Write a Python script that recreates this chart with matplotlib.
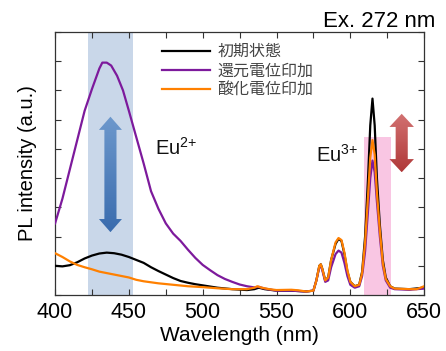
import matplotlib
matplotlib.use("Agg")
import matplotlib.pyplot as plt
import numpy as np
from matplotlib.patches import Polygon
from matplotlib.ticker import MultipleLocator

plt.rcParams['font.family'] = ['Liberation Sans', 'Noto Sans CJK JP', 'DejaVu Sans']
plt.rcParams['mathtext.default'] = 'regular'

# spectra (wavelength in nm, intensity in arbitrary units)
wl_init = [400, 405, 410, 415, 420, 425, 430, 435, 440, 445, 450, 455, 460, 465, 470,
           475, 480, 485, 490, 495, 500, 510, 520, 530, 535, 538, 542, 550, 560, 570,
           575, 577, 579, 580, 581, 583, 585, 587, 590, 592, 594, 596, 598, 600, 603,
           606, 608, 610, 612, 613.5, 615, 616.5, 618, 620, 622, 624, 627, 630, 640, 650]
pl_init = [1.0, 0.98, 1.02, 1.12, 1.25, 1.35, 1.42, 1.45, 1.43, 1.38, 1.3, 1.2, 1.1, 0.95, 0.82,
           0.7, 0.58, 0.48, 0.42, 0.37, 0.33, 0.25, 0.2, 0.17, 0.2, 0.25, 0.2, 0.15, 0.15, 0.12,
           0.15, 0.5, 1.0, 1.05, 0.9, 0.5, 0.6, 1.2, 1.75, 1.92, 1.85, 1.4, 0.8, 0.45, 0.3,
           0.35, 0.8, 2.0, 4.0, 5.8, 6.72, 5.8, 4.0, 2.4, 1.2, 0.6, 0.3, 0.22, 0.2, 0.25]

wl_red = [400, 405, 410, 415, 420, 425, 430, 432, 435, 438, 442, 446, 450, 455, 460,
          465, 470, 475, 480, 485, 490, 495, 500, 505, 510, 515, 520, 525, 530, 535,
          538, 542, 550, 560, 570, 575, 577, 579, 580, 581, 583, 585, 587, 590, 592,
          594, 596, 598, 600, 603, 606, 608, 610, 612, 613.5, 615, 616.5, 618, 620, 622,
          624, 627, 630, 640, 650]
pl_red = [2.45, 3.3, 4.3, 5.3, 6.3, 7.05, 7.75, 7.95, 7.95, 7.85, 7.5, 7.0, 6.3, 5.4, 4.5,
          3.55, 2.95, 2.45, 2.1, 1.85, 1.55, 1.27, 1.03, 0.85, 0.68, 0.55, 0.45, 0.36, 0.3, 0.26,
          0.28, 0.22, 0.15, 0.15, 0.12, 0.15, 0.5, 0.95, 1.0, 0.85, 0.45, 0.5, 0.95, 1.4, 1.52,
          1.45, 1.1, 0.65, 0.35, 0.25, 0.3, 0.65, 1.5, 2.9, 4.0, 4.6, 4.2, 3.2, 2.0, 1.0,
          0.5, 0.25, 0.2, 0.18, 0.22]

wl_ox = [400, 405, 410, 415, 420, 425, 430, 435, 440, 445, 450, 455, 460, 470, 480,
         490, 500, 510, 520, 530, 535, 537, 540, 545, 550, 560, 565, 570, 575, 577,
         579, 580, 581, 583, 585, 587, 590, 592, 594, 596, 598, 600, 603, 606, 608,
         610, 612, 613.5, 615, 616.5, 618, 620, 622, 624, 627, 630, 640, 645, 650]
pl_ox = [1.43, 1.3, 1.15, 1.03, 0.95, 0.88, 0.8, 0.75, 0.7, 0.65, 0.6, 0.52, 0.47, 0.4, 0.35,
         0.3, 0.27, 0.23, 0.2, 0.2, 0.25, 0.3, 0.25, 0.2, 0.17, 0.18, 0.16, 0.12, 0.15, 0.5,
         1.0, 1.05, 0.9, 0.5, 0.6, 1.2, 1.8, 1.95, 1.88, 1.45, 0.85, 0.45, 0.3, 0.35, 0.75,
         1.8, 3.4, 4.7, 5.3, 4.8, 3.5, 2.2, 1.1, 0.55, 0.3, 0.22, 0.2, 0.2, 0.3]

labels = ['初期状態', '還元電位印加', '酸化電位印加']
colors = ['black', '#7d1a9c', '#ff8000']


def double_arrow(ax, x, y0, y1, shaft_w, head_w, head_len, c_top, c_bot):
    pts = [(x - shaft_w, y0 + head_len), (x - head_w, y0 + head_len), (x, y0),
           (x + head_w, y0 + head_len), (x + shaft_w, y0 + head_len),
           (x + shaft_w, y1 - head_len), (x + head_w, y1 - head_len), (x, y1),
           (x - head_w, y1 - head_len), (x - shaft_w, y1 - head_len)]
    poly = Polygon(pts, closed=True, facecolor='none', edgecolor='none', zorder=4)
    ax.add_patch(poly)
    ct = np.array(matplotlib.colors.to_rgb(c_top))
    cb = np.array(matplotlib.colors.to_rgb(c_bot))
    t = np.linspace(0, 1, 64)[:, None]
    grad = (ct * (1 - t) + cb * t)[:, None, :]
    im = ax.imshow(grad, extent=[x - head_w, x + head_w, y0, y1], origin='upper',
                   aspect='auto', zorder=4)
    im.set_clip_path(poly)


fig = plt.figure(figsize=(4.46, 3.51), dpi=100)
ax = fig.add_axes([0.1235, 0.1595, 0.8275, 0.7495])

ax.axvspan(422.5, 453, color='#c9d7e9', zorder=0, lw=0)
ax.fill_between([609, 627.5], 0, 5.4, color='#f9c6e3', zorder=0, lw=0)

for wl, pl, lab, c in zip([wl_init, wl_red, wl_ox], [pl_init, pl_red, pl_ox], labels, colors):
    ax.plot(wl, pl, color=c, lw=1.6, label=lab, zorder=3)

double_arrow(ax, 437.5, 2.15, 6.1, 4.1, 7.8, 0.45, '#6d98cc', '#3a6cae')
double_arrow(ax, 634.8, 4.2, 6.2, 4.1, 8.3, 0.45, '#d27272', '#b03838')

ax.text(467.5, 5.05, 'Eu$^{2{+}}$', fontsize=14.5, va='center', ha='left', color='#111111')
ax.text(576.5, 4.8, 'Eu$^{3{+}}$', fontsize=14.5, va='center', ha='left', color='#111111')

ax.set_xlim(400, 650)
ax.set_ylim(0, 9)
ax.xaxis.set_major_locator(MultipleLocator(50))
ax.xaxis.set_minor_locator(MultipleLocator(25))
ax.yaxis.set_major_locator(MultipleLocator(1))
ax.tick_params(which='both', direction='in', top=True, right=True, length=4,
               width=0.8, color='#333333', labelsize=15.5, pad=5)
ax.set_yticklabels([])
for s in ax.spines.values():
    s.set_linewidth(0.9)
    s.set_color('#333333')

ax.set_xlabel('Wavelength (nm)', fontsize=15, labelpad=2)
ax.set_ylabel('PL intensity (a.u.)', fontsize=14.5)
ax.yaxis.set_label_coords(-0.05, 0.5)

leg = ax.legend(loc='upper left', bbox_to_anchor=(0.252, 1.012), frameon=False,
                prop={'family': ['Noto Sans CJK JP', 'DejaVu Sans'], 'size': 11.5},
                handlelength=3.0, handletextpad=0.45, labelspacing=0.15)
for t in leg.get_texts():
    t.set_color('#444444')

fig.text(435 / 446, 1 - 27 / 351, 'Ex. 272 nm', fontsize=16, ha='right', va='baseline')

fig.savefig('out.png', dpi=100)
